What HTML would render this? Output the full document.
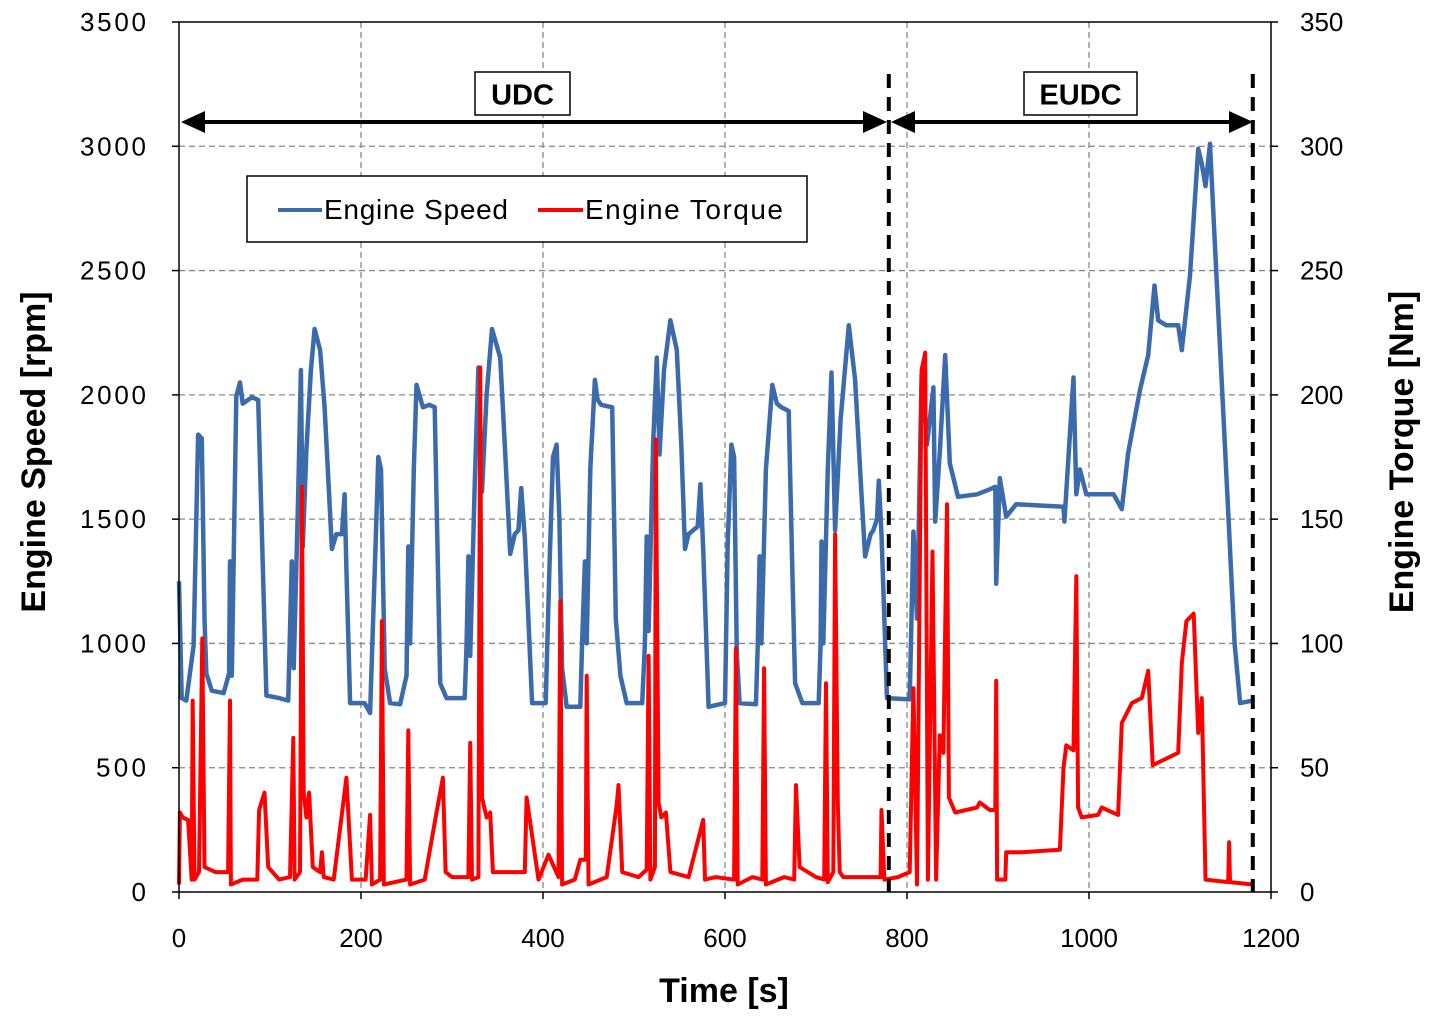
<!DOCTYPE html>
<html><head><meta charset="utf-8">
<style>
html,body{margin:0;padding:0;background:#fff;}
svg{display:block;font-family:"Liberation Sans",sans-serif;}
</style></head>
<body>
<svg id="chart" width="1429" height="1020" viewBox="0 0 1429 1020" xmlns="http://www.w3.org/2000/svg">
<g id="grid"></g>
<g id="series"></g>
<g id="axes"></g>
<g id="annot"></g>
</svg>
<script>
const xTicks = [0,200,400,600,800,1000,1200];
const yLeftTicks = [0,500,1000,1500,2000,2500,3000,3500];
const yRightTicks = [0,50,100,150,200,250,300,350];
const speedT = [0,3,8,12,16,21,25,28,30,36,49,55,56,58,63,67,70,80,87,96,110,120,124,126,131,134,136,140,145,149,155,160,168,173,179,182,184,188,204,210,
216,219,222,226,232,243,250,252,254,258,261,268,275,281,287,294,314,316,318,320,325,329,333,338,344,353,358,364,369,373,376,380,388,400,
403,407,411,415,418,421,426,441,443,446,448,452,457,460,464,476,480,485,492,509,512,514,516,521,525,528,533,540,547,552,556,560,565,570,573,576,582,600,
603,607,610,613,616,634,636,638,640,645,652,657,662,670,674,677,685,703,705,706,708,713,717,721,727,736,743,750,754,760,763,767,769,772,778,803,
807,811,816,822,829,831,836,842,847,856,877,891,897,898,902,909,920,972,973,983,986,990,997,1027,1036,1043,1056,1065,1072,1076,1085,1098,1102,1111,1120,1124,1128,1133,1138,1153,1160,1166,1180];
const speedV = [1250,780,770,880,990,1840,1825,1100,880,810,800,880,1330,870,1995,2050,1965,1990,1980,790,780,770,1330,900,1600,2100,1390,1780,2100,2265,2180,1950,1380,1440,1440,1600,1300,760,760,720,
1400,1750,1700,900,760,755,870,1390,1000,1700,2040,1950,1960,1950,840,780,780,1000,1350,950,1650,2110,1610,2000,2265,2150,1800,1360,1440,1455,1625,1425,760,760,
760,1300,1750,1800,1500,900,745,745,1000,1330,1000,1700,2060,1980,1960,1950,1100,870,760,760,1000,1430,1050,1800,2150,1760,2100,2300,2180,1800,1380,1440,1455,1470,1640,1380,745,760,
1400,1800,1750,960,760,755,1000,1350,1000,1700,2040,1965,1950,1935,1300,840,760,760,1000,1410,1000,1700,2090,1455,1900,2280,2060,1600,1350,1440,1455,1500,1655,1440,780,775,
1450,1100,2080,1800,2030,1490,1770,2160,1725,1590,1600,1620,1630,1240,1665,1510,1560,1550,1490,2070,1600,1700,1600,1600,1540,1765,2020,2160,2440,2300,2280,2280,2180,2480,2990,2930,2840,3010,2630,1530,1000,760,770];
const torqueT = [0,1,4,10,14,15,17,22,25.6,28,40,54,56,57,70,86,88,94,98,110,122,125.6,127,133,135,137,140,143,147,155,157,159,170,184,190,205,210,212,221,223,225,250,252,254,270,283,290,293,300,318,320,322,329,331,333,338,342,345,360,380,382,395,406,
417,419,421,435,441,447,448,450,470,481,483,487,505,514,516,518,523,524,527,530,535,540,560,576,578,590,610,612,614,630,641,643,645,665,676,678,682,700,709,711,713,719,721,724,726,730,750,771,772,775,790,803,
807,811,816,820,823,828,832,836,840,844,846,853,877,880,891,897,898,899,908,909,926,968,972,975,983,986,988,992,1010,1014,1032,1036,1047,1058,1065,1070,1098,1102,1107,1115,1120,1124,1128,1153,1154,1155,1180];
const torqueV = [3,32,30,29,5,77,5,8,102,10,8,8,77,3,5,5,33,40,10,5,6,62,5,8,163,40,30,40,10,8,16,6,5,46,5,5,31,3,5,109,3,5,65,3,5,32,46,8,6,6,60,5,6,211,38,30,32,8,8,8,38,5,15,
6,117,3,5,13,13,87,3,6,35,43,8,6,9,95,5,10,182,36,30,32,8,6,29,5,6,5,98,3,6,5,90,3,6,5,43,10,6,5,84,4,8,144,36,8,6,6,6,33,5,6,8,
82,3,210,217,5,137,5,63,56,156,38,32,34,36,33,33,85,5,5,16,16,17,50,59,57,127,34,30,31,34,31,68,76,78,89,51,56,92,109,112,64,78,5,4,20,4,3];

const NS='http://www.w3.org/2000/svg';
const X0=179,X1=1271,Y0=892,Y1=22;
const xs=t=>X0+(t/1200)*(X1-X0);
const yL=v=>Y0-(v/3500)*(Y0-Y1);
const yR=v=>Y0-(v/350)*(Y0-Y1);
function mk(tag,attrs,parent){const e=document.createElementNS(NS,tag);for(const k in attrs)e.setAttribute(k,attrs[k]);parent.appendChild(e);return e;}
const grid=document.getElementById('grid'),axes=document.getElementById('axes'),ser=document.getElementById('series'),ann=document.getElementById('annot');

yLeftTicks.forEach((v,i)=>{
  if(v>0&&v<3500){const g=mk('line',{x1:X0,x2:X1,y1:yL(v),y2:yL(v),stroke:'#888','stroke-width':1.3,'stroke-dasharray':'6,4'},grid);
  
  }
  const tk=mk('line',{x1:X0-7,x2:X0,y1:yL(v),y2:yL(v),stroke:'#000','stroke-width':1.5},axes);
  
  
  const t=mk('text',{x:146,y:yL(v)+9,'text-anchor':'end','font-size':26,fill:'#000','textLength':v>=1000?66:(v>0?50:17)},axes);t.textContent=v;
  
  
});
yRightTicks.forEach(v=>{
  const tk=mk('line',{x1:X1,x2:X1+7,y1:yR(v),y2:yR(v),stroke:'#000','stroke-width':1.5},axes);
  
  
  const t=mk('text',{x:1300,y:yR(v)+9,'font-size':26,fill:'#000'},axes);t.textContent=v;
  
  
});
xTicks.forEach(v=>{
  if(v>0&&v<1200){const g=mk('line',{x1:xs(v),x2:xs(v),y1:Y1,y2:Y0,stroke:'#888','stroke-width':1.3,'stroke-dasharray':'6,4'},grid);
  
  }
  const tk=mk('line',{x1:xs(v),x2:xs(v),y1:Y0,y2:Y0+7,stroke:'#000','stroke-width':1.5},axes);
  
  
  const t=mk('text',{x:xs(v),y:947,'text-anchor':'middle','font-size':26,fill:'#000'},axes);t.textContent=v;
  
  
});
const frame=mk('rect',{x:X0,y:Y1,width:X1-X0,height:Y0-Y1,fill:'none',stroke:'#000','stroke-width':1.5},axes);



let ds='';speedT.forEach((t,i)=>{ds+=(i?'L':'M')+xs(t).toFixed(1)+','+yL(speedV[i]).toFixed(1);});
const sp=mk('path',{d:ds,fill:'none',stroke:'#3c6bab','stroke-width':4.5,'stroke-linejoin':'round'},ser);


let dt='';torqueT.forEach((t,i)=>{dt+=(i?'L':'M')+xs(t).toFixed(1)+','+yR(torqueV[i]).toFixed(1);});
const tq=mk('path',{d:dt,fill:'none',stroke:'#ff0000','stroke-width':4,'stroke-linejoin':'round'},ser);



const xt=mk('text',{x:724,y:1002,'text-anchor':'middle','font-size':34,'font-weight':'bold'},axes);xt.textContent='Time [s]';


const ylt=mk('text',{x:0,y:0,'text-anchor':'middle','font-size':34,'font-weight':'bold',transform:'translate(45,452) rotate(-90)'},axes);ylt.textContent='Engine Speed [rpm]';


const yrt=mk('text',{x:0,y:0,'text-anchor':'middle','font-size':34,'font-weight':'bold',transform:'translate(1413,452) rotate(-90)'},axes);yrt.textContent='Engine Torque [Nm]';



[780,1180].forEach(t=>{const l=mk('line',{x1:xs(t),x2:xs(t),y1:74,y2:Y0,stroke:'#000','stroke-width':4,'stroke-dasharray':'14,9'},ann);

});
function arrow(xa,xb,name){
  const g=mk('g',{},ann);
  
  
  mk('line',{x1:xa+18,x2:xb-18,y1:122,y2:122,stroke:'#000','stroke-width':4},g);
  mk('polygon',{points:`${xa},122 ${xa+24},111 ${xa+24},133`,fill:'#000'},g);
  mk('polygon',{points:`${xb},122 ${xb-24},111 ${xb-24},133`,fill:'#000'},g);
}
arrow(181,887,'udc-arrow');arrow(891,1253,'eudc-arrow');
function box(x,y,w,h,txt,name){
  const g=mk('g',{},ann);
  
  
  mk('rect',{x:x,y:y,width:w,height:h,fill:'#fff',stroke:'#000','stroke-width':1.5},g);
  const t=mk('text',{x:x+w/2,y:y+h/2+11,'text-anchor':'middle','font-size':29,'font-weight':'bold'},g);t.textContent=txt;
}
box(475,72,95,43,'UDC','udc-label');box(1024,72,113,43,'EUDC','eudc-label');

const lg=mk('g',{},ann);


mk('rect',{x:247,y:176,width:560,height:66,fill:'#fff',stroke:'#000','stroke-width':1.5},lg);
const e1=mk('g',{},lg);


mk('line',{x1:278,x2:322,y1:210,y2:210,stroke:'#3c6bab','stroke-width':4},e1);
const t1=mk('text',{x:324,y:219,'font-size':28,'textLength':184},e1);t1.textContent='Engine Speed';
const e2=mk('g',{},lg);


mk('line',{x1:538,x2:583,y1:210,y2:210,stroke:'#ff0000','stroke-width':4},e2);
const t2=mk('text',{x:585,y:219,'font-size':28,'textLength':198},e2);t2.textContent='Engine Torque';
</script>
</body></html>
